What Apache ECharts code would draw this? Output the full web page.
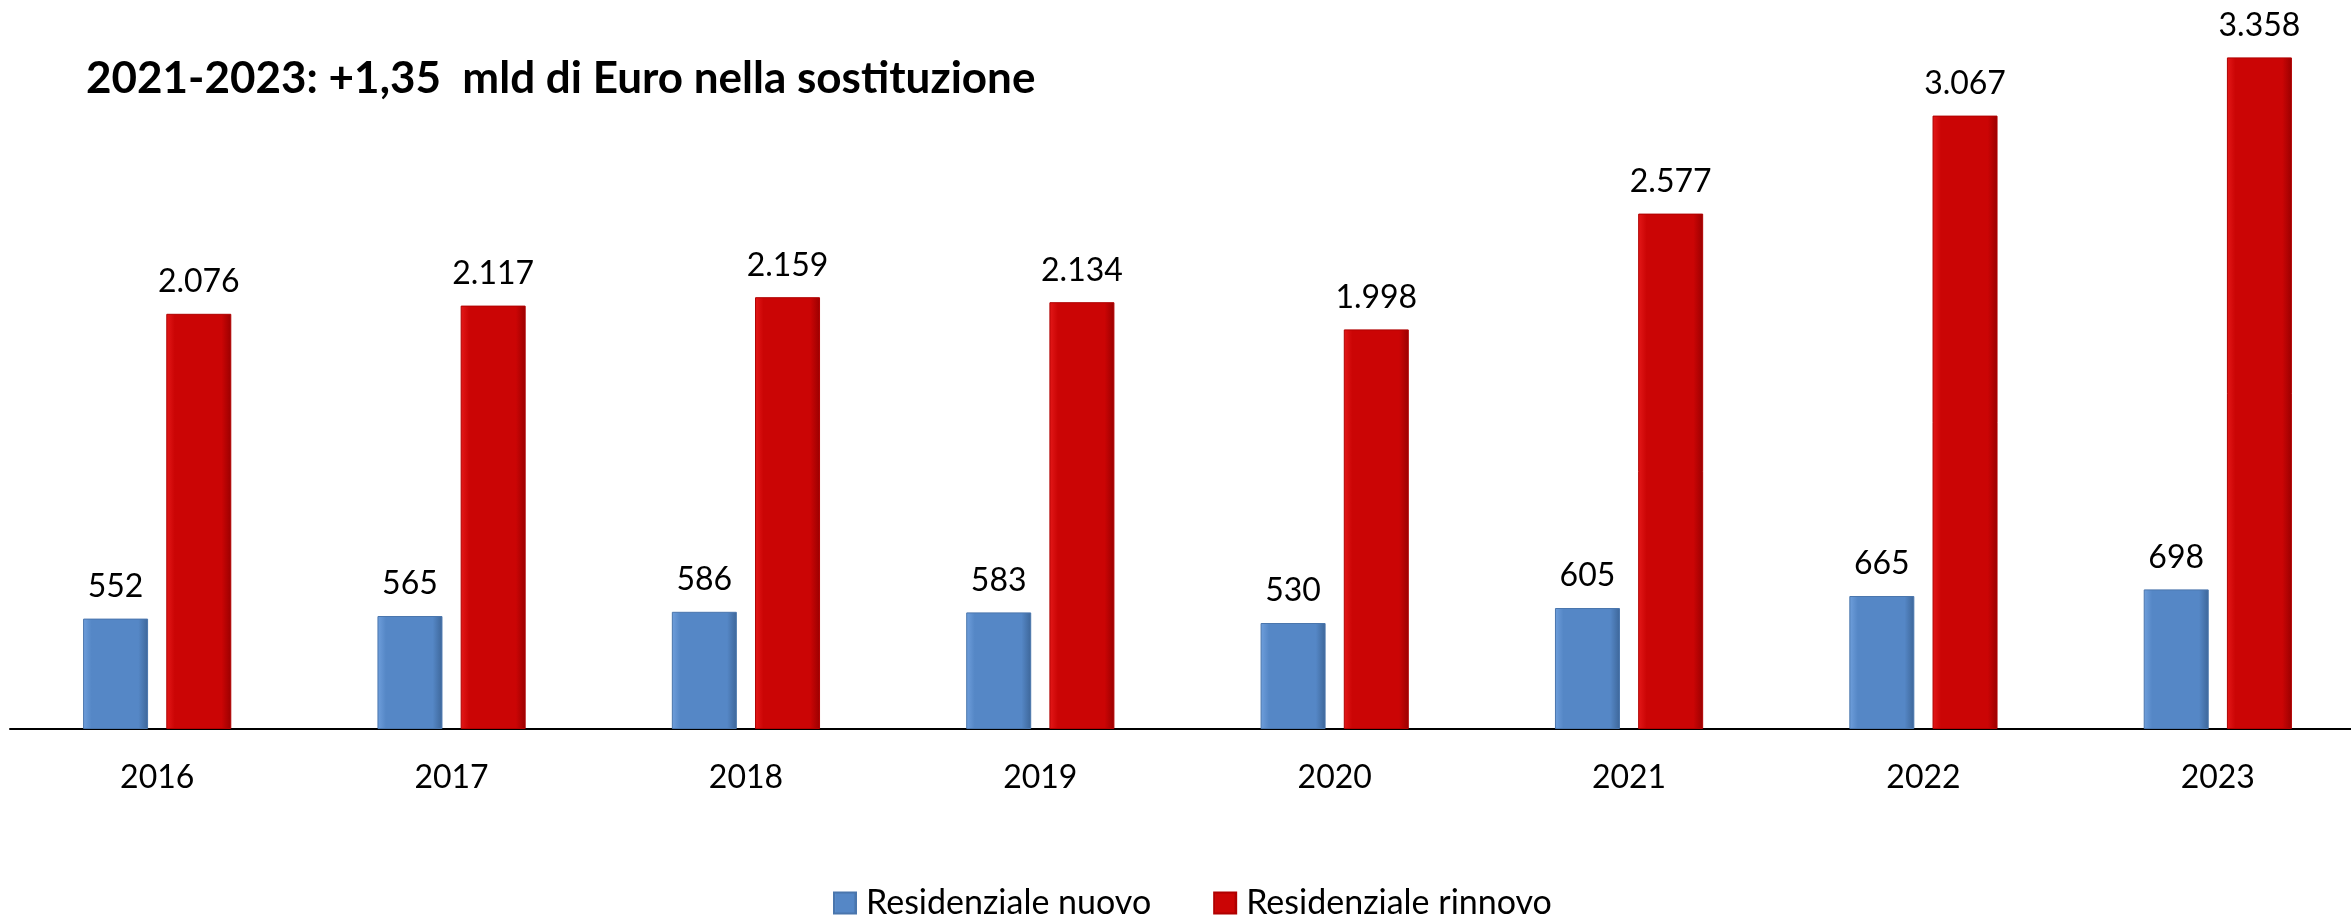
<!DOCTYPE html>
<html>
<head>
<meta charset="utf-8">
<title>Residenziale nuovo / rinnovo</title>
<script src="https://cdn.jsdelivr.net/npm/echarts@6/dist/echarts.min.js"></script>
<style>
  html, body { margin: 0; padding: 0; background: #fff; overflow: hidden; }
  /* il grafico originale e' tagliato a destra: il contenitore e' un po' piu' largo della finestra */
  #chart { width: 2365px; height: 917px; }
</style>
</head>
<body>
<div id="chart"></div>
<script>
  // dati (milioni di Euro)
  const anni = ['2016', '2017', '2018', '2019', '2020', '2021', '2022', '2023'];
  const nuovo = [552, 565, 586, 583, 530, 605, 665, 698];
  const rinnovo = [2076, 2117, 2159, 2134, 1998, 2577, 3067, 3358];
  const titolo = '2021-2023: +1,35  mld di Euro nella sostituzione';
  const nomi = ['Residenziale nuovo', 'Residenziale rinnovo'];

  const font = 'Lato, "Open Sans", sans-serif';

  // separatore delle migliaia all'italiana
  function fmt(v) {
    return String(v).replace(/\B(?=(\d{3})+(?!\d))/g, '.');
  }

  // finto effetto "bevel" come in Excel
  function bevel(light, main, dark) {
    return new echarts.graphic.LinearGradient(0, 0, 1, 0, [
      {offset: 0, color: light},
      {offset: 0.13, color: main},
      {offset: 0.85, color: main},
      {offset: 1, color: dark}
    ]);
  }
  const blu = bevel('#6f9fdc', '#5587c6', '#3d6699');
  const rosso = bevel('#e41818', '#cb0505', '#9a0000');

  const myChart = echarts.init(document.getElementById('chart'));
  const option = {
    animation: false,
    title: {
      text: titolo,
      left: 86,
      top: 57,
      padding: 0,
      textStyle: {
        fontFamily: font,
        fontWeight: 'bold',
        fontSize: 44,
        color: '#000'
      }
    },
    legend: {
      data: nomi,
      left: 833,
      top: 886,
      padding: 0,
      itemWidth: 22,
      itemHeight: 21,
      itemGap: 62,
      icon: 'rect',
      textStyle: {
        fontFamily: font,
        fontSize: 34,
        color: '#000',
        padding: [0, 0, 0, 5]
      }
    },
    grid: {
      left: 10,
      right: 0,
      top: 9,
      bottom: 188
    },
    xAxis: {
      type: 'category',
      data: anni,
      axisLine: {lineStyle: {color: '#000', width: 2}},
      axisTick: {show: false},
      axisLabel: {
        margin: 33,
        fontFamily: font,
        fontSize: 32,
        color: '#000'
      }
    },
    yAxis: {
      type: 'value',
      min: 0,
      max: 3600,
      show: false,
      splitLine: {show: false}
    },
    series: [
      {
        name: nomi[0],
        type: 'bar',
        data: nuovo,
        barWidth: 65,
        barGap: '28%',
        itemStyle: {color: blu, borderColor: '#4a76ad', borderWidth: 1},
        label: {
          show: true,
          position: 'top',
          distance: 16,
          fontFamily: font,
          fontSize: 32,
          color: '#000',
          formatter: p => fmt(p.value)
        }
      },
      {
        name: nomi[1],
        type: 'bar',
        data: rinnovo,
        barWidth: 65,
        itemStyle: {color: rosso, borderColor: '#b00000', borderWidth: 1},
        label: {
          show: true,
          position: 'top',
          distance: 16,
          fontFamily: font,
          fontSize: 32,
          color: '#000',
          formatter: p => fmt(p.value)
        }
      }
    ]
  };
  myChart.setOption(option);
</script>
</body>
</html>
